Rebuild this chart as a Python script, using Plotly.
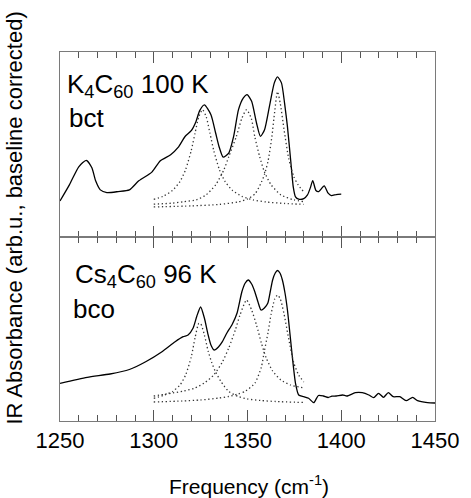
import plotly.graph_objects as go
from plotly.subplots import make_subplots

# ---------------- data ----------------
# Top panel: K4C60 100 K (bct) measured spectrum
k4_freq = [1250, 1255, 1260, 1264, 1267, 1269, 1271.5, 1275, 1281, 1287,
           1292, 1299, 1303.5, 1309, 1313, 1316.6, 1320, 1322.5, 1324.5, 1327,
           1330.5, 1333, 1334.8, 1337, 1340, 1342.6, 1345.2, 1347.8, 1349.8, 1352.2,
           1354.8, 1356.9, 1359.1, 1361.7, 1364.3, 1366, 1368.1, 1369.8, 1371.3, 1373,
           1374.4, 1375.6, 1377.3, 1380, 1382, 1383.5, 1384.8, 1386.5, 1388, 1390.9,
           1393, 1394.7, 1397.3, 1400]
k4_abs = [0.36, 0.52, 0.70, 0.765, 0.69, 0.56, 0.47, 0.443, 0.453, 0.47,
          0.56, 0.647, 0.76, 0.82, 0.893, 1.0, 1.06, 1.15, 1.26, 1.317,
          1.22, 1.037, 0.903, 0.797, 0.837, 1.003, 1.27, 1.387, 1.42, 1.353,
          1.137, 1.003, 1.07, 1.303, 1.537, 1.597, 1.537, 1.33, 1.10, 0.77,
          0.50, 0.40, 0.377, 0.383, 0.42, 0.49, 0.563, 0.463, 0.453, 0.51,
          0.437, 0.413, 0.423, 0.427]

# Top panel fitted components (dotted)
k4_c1_freq = [1300, 1305, 1310, 1314, 1317, 1320, 1322, 1324, 1326, 1328, 1330, 1332,
              1335, 1338, 1342, 1347, 1353, 1360, 1370, 1380]
k4_c1_abs = [0.375, 0.406, 0.464, 0.554, 0.672, 0.863, 1.033, 1.198, 1.27, 1.198, 1.033,
             0.863, 0.672, 0.554, 0.464, 0.406, 0.37, 0.349, 0.334, 0.326]
k4_c2_freq = [1300, 1310, 1316, 1322.7, 1327.9, 1333, 1337.4, 1340, 1344, 1347, 1349.5,
              1352, 1353.9, 1356.5, 1359, 1362.6, 1367.8, 1374.7, 1380]
k4_c2_abs = [0.327, 0.338, 0.352, 0.37, 0.42, 0.52, 0.67, 0.80, 1.0, 1.184, 1.27,
             1.184, 1.0, 0.80, 0.65, 0.52, 0.42, 0.37, 0.353]
k4_c3_freq = [1300, 1320, 1335, 1345, 1350, 1354, 1357, 1359, 1361, 1363, 1364.5, 1366,
              1367.5, 1369.5, 1372, 1374.7, 1377, 1380]
k4_c3_abs = [0.30, 0.31, 0.325, 0.35, 0.38, 0.43, 0.53, 0.62, 0.76, 1.00, 1.25, 1.45,
             1.33, 1.07, 0.78, 0.60, 0.52, 0.45]

# Bottom panel: Cs4C60 96 K (bco) measured spectrum
cs4_freq = [1250, 1264.5, 1276.7, 1287, 1295.7, 1304.4, 1311.4, 1315.7, 1318.3, 1321,
            1323, 1325, 1327, 1328.8, 1330.5, 1332.2, 1334.5, 1336.6, 1339, 1341.8,
            1344.4, 1347, 1348.8, 1350.4, 1352.2, 1353.9, 1355.6, 1357.2, 1359, 1360.8,
            1362.2, 1363.4, 1364.8, 1366, 1367.3, 1368.6, 1370, 1371.3, 1372.6, 1373.9,
            1375.6, 1377.3, 1380, 1382.6, 1385.3, 1387.8, 1390.5, 1393, 1395, 1397.3,
            1400.8, 1403, 1407.5, 1411.2, 1414.7, 1417.3, 1419.9, 1422.5, 1425.1, 1427.7,
            1431.2, 1434.6, 1438.1, 1440.7, 1446, 1450]
cs4_abs = [0.377, 0.437, 0.47, 0.515, 0.593, 0.693, 0.793, 0.843, 0.86, 0.93,
           1.05, 1.14, 1.03, 0.877, 0.76, 0.71, 0.74, 0.793, 0.88, 0.965,
           1.077, 1.293, 1.38, 1.41, 1.37, 1.293, 1.19, 1.11, 1.13, 1.177,
           1.30, 1.41, 1.48, 1.505, 1.48, 1.41, 1.28, 1.11, 0.88, 0.643,
           0.377, 0.26, 0.243, 0.227, 0.183, 0.255, 0.25, 0.235, 0.248, 0.25,
           0.26, 0.25, 0.283, 0.283, 0.26, 0.233, 0.277, 0.237, 0.283, 0.243,
           0.243, 0.203, 0.237, 0.203, 0.183, 0.18]

# Bottom panel fitted components (dotted)
cs4_c1_freq = [1300, 1305, 1310, 1314, 1317, 1320, 1322, 1324, 1325, 1327, 1329, 1331,
               1333, 1336, 1340, 1345, 1350, 1357, 1365, 1380]
cs4_c1_abs = [0.227, 0.255, 0.295, 0.36, 0.46, 0.64, 0.83, 0.975, 0.975, 0.86, 0.70, 0.58,
              0.49, 0.39, 0.295, 0.245, 0.22, 0.205, 0.195, 0.185]
cs4_c2_freq = [1300, 1310, 1316, 1322, 1327, 1332, 1336.6, 1340, 1343.5, 1346, 1349.5,
               1352.2, 1354.8, 1357.4, 1360, 1363.4, 1367.8, 1373, 1380]
cs4_c2_abs = [0.25, 0.28, 0.30, 0.33, 0.38, 0.46, 0.59, 0.73, 0.91, 1.06, 1.21,
              1.11, 0.96, 0.78, 0.63, 0.50, 0.41, 0.36, 0.33]
cs4_c3_freq = [1300, 1315, 1325, 1335, 1340, 1345, 1349, 1354, 1357.4, 1359, 1361, 1362.6,
               1364.5, 1366, 1367.5, 1369.5, 1372, 1374.7, 1377.3, 1380]
cs4_c3_abs = [0.19, 0.20, 0.21, 0.23, 0.245, 0.27, 0.30, 0.38, 0.54, 0.70, 0.89, 1.07,
              1.22, 1.26, 1.22, 1.07, 0.82, 0.58, 0.46, 0.39]

x_ticks = [1250, 1300, 1350, 1400, 1450]

# ---------------- figure ----------------
FONT = "Liberation Sans, Arial, Helvetica, sans-serif"
W, H = 471, 498
ML, MR, MT, MB = 60, 27, 52, 77
PW, PH = W - ML - MR, H - MT - MB


def px(xp):
    return (xp - ML) / PW


def py(yp):
    return (H - MB - yp) / PH


fig = make_subplots(rows=2, cols=1, shared_xaxes=True, vertical_spacing=0)

solid = dict(color="black", width=1.3, shape="spline", smoothing=0.6)
dotted = dict(color="#333333", width=1.3, dash="1.3px,2.6px", shape="spline", smoothing=0.6)

fig.add_trace(go.Scatter(x=k4_freq, y=k4_abs, mode="lines", line=solid), row=1, col=1)
for fx, fy in [(k4_c1_freq, k4_c1_abs), (k4_c2_freq, k4_c2_abs), (k4_c3_freq, k4_c3_abs)]:
    fig.add_trace(go.Scatter(x=fx, y=fy, mode="lines", line=dotted), row=1, col=1)

fig.add_trace(go.Scatter(x=cs4_freq, y=cs4_abs, mode="lines", line=solid), row=2, col=1)
for fx, fy in [(cs4_c1_freq, cs4_c1_abs), (cs4_c2_freq, cs4_c2_abs), (cs4_c3_freq, cs4_c3_abs)]:
    fig.add_trace(go.Scatter(x=fx, y=fy, mode="lines", line=dotted), row=2, col=1)

frame = "#7a7a7a"
tickc = "#555555"
xcommon = dict(range=[1250, 1450], showline=True, linecolor=frame, linewidth=1,
               mirror="ticks", ticks="inside", ticklen=11, tickwidth=1, tickcolor=tickc,
               tickvals=x_ticks, showgrid=False, zeroline=False,
               minor=dict(ticks="inside", ticklen=6, dtick=10, tick0=1250,
                          tickcolor=tickc, tickwidth=1, showgrid=False),
               tickfont=dict(family=FONT, size=22, color="black"))
ycommon = dict(showline=True, linecolor=frame, linewidth=1, mirror=True, ticks="",
               showticklabels=False, showgrid=False, zeroline=False)

split = py(237)
fig.update_layout(
    xaxis=dict(xcommon, showticklabels=False),
    xaxis2=dict(xcommon, showticklabels=True),
    yaxis=dict(ycommon, range=[0, 1.845], domain=[split, 1]),
    yaxis2=dict(ycommon, range=[0, 1.84], domain=[0, split]),
)

ann_font = dict(family=FONT, size=26, color="black")
annotations = [
    dict(text="K<sub>4</sub>C<sub>60</sub> 100 K", x=px(65), y=py(86), xanchor="left",
         yanchor="middle", font=ann_font),
    dict(text="bct", x=px(67), y=py(118), xanchor="left", yanchor="middle", font=ann_font),
    dict(text="Cs<sub>4</sub>C<sub>60</sub> 96 K", x=px(73), y=py(275), xanchor="left",
         yanchor="middle", font=ann_font),
    dict(text="bco", x=px(71), y=py(309), xanchor="left", yanchor="middle", font=ann_font),
    dict(text="IR Absorbance (arb.u., baseline corrected)", textangle=-90,
         x=px(13), y=py(218.5), xanchor="center", yanchor="middle",
         font=dict(family=FONT, size=22, color="black")),
    dict(text="Frequency (cm<sup>-1</sup>)", x=px(253.5), y=py(485),
         xanchor="center", yanchor="middle",
         font=dict(family=FONT, size=21, color="black")),
]
for a in annotations:
    a.update(xref="paper", yref="paper", showarrow=False)

fig.update_layout(
    width=W, height=H,
    margin=dict(l=ML, r=MR, t=MT, b=MB),
    paper_bgcolor="white", plot_bgcolor="white",
    showlegend=False,
    annotations=annotations,
)

fig.write_html(
    "out.html",
    config={"displayModeBar": False},
    post_script="document.body.style.margin='0';document.body.style.padding='0';"
                "document.body.style.overflow='hidden';",
)
